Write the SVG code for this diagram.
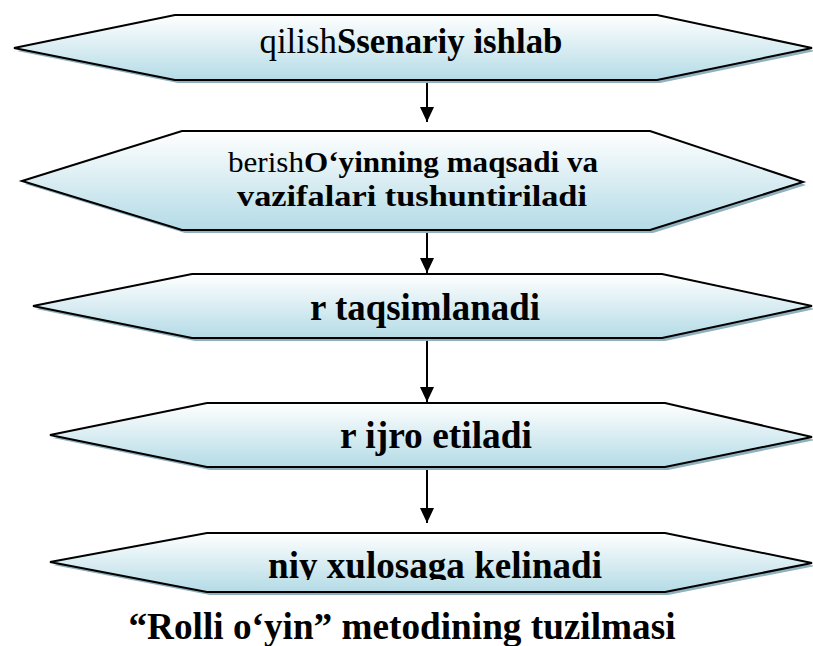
<svg xmlns="http://www.w3.org/2000/svg" width="813" height="646" viewBox="0 0 813 646">
<style>
.shape{fill:url(#g);stroke:#000;stroke-width:2;stroke-linejoin:miter}
.shadow{fill:#8fb0bd;stroke:none}
.t{font-family:"Liberation Serif","Times New Roman",serif;font-weight:bold;fill:#000;text-anchor:middle}
.r{font-weight:normal}
.conn{stroke:#000;stroke-width:2;fill:none}
</style>
<defs>
<linearGradient id="g" x1="0" y1="0" x2="0" y2="1">
<stop offset="0" stop-color="#ffffff"/>
<stop offset="1" stop-color="#b4dbe6"/>
</linearGradient>
<marker id="ah" markerUnits="userSpaceOnUse" markerWidth="16" markerHeight="16" viewBox="0 0 16 16" refX="15" refY="8" orient="auto">
<path d="M0,1 L15,8 L0,15 Z" fill="#000"/>
</marker>
<clipPath id="c5"><rect x="0" y="533" width="813" height="47"/></clipPath>
</defs>
<g id="connectors">
<line class="conn" x1="427" y1="80" x2="427" y2="122" marker-end="url(#ah)"/>
<line class="conn" x1="427" y1="230" x2="427" y2="273" marker-end="url(#ah)"/>
<line class="conn" x1="427" y1="338" x2="427" y2="402" marker-end="url(#ah)"/>
<line class="conn" x1="427" y1="467" x2="427" y2="523" marker-end="url(#ah)"/>
</g>
<g id="n1">
<polygon class="shadow" points="17,51 178,18 660,18 815,51 660,83 178,83"/>
<polygon class="shape" points="14,48 175,15 657,15 812,48 657,80 175,80"/>
<text class="t" x="411" y="53" font-size="35" textLength="303" lengthAdjust="spacingAndGlyphs"><tspan class="r">qilish</tspan>Ssenariy ishlab</text>
</g>
<g id="n2">
<polygon class="shadow" points="25,184 185,134 653,134 806,185 653,233 185,233"/>
<polygon class="shape" points="22,181 182,131 650,131 803,182 650,230 182,230"/>
<text class="t" x="413" y="172" font-size="30" textLength="370" lengthAdjust="spacingAndGlyphs"><tspan class="r">berish</tspan>O‘yinning maqsadi va</text>
<text class="t" x="412" y="206" font-size="30" textLength="350" lengthAdjust="spacingAndGlyphs">vazifalari tushuntiriladi</text>
</g>
<g id="n3">
<polygon class="shadow" points="36,309 195,277 665,277 815,309 665,341 195,341"/>
<polygon class="shape" points="33,306 192,274 662,274 812,306 662,338 192,338"/>
<text class="t" x="425" y="320" font-size="37" textLength="230" lengthAdjust="spacingAndGlyphs">r taqsimlanadi</text>
</g>
<g id="n4">
<polygon class="shadow" points="53,438 210,406 668,406 815,440 668,470 210,470"/>
<polygon class="shape" points="50,435 207,403 665,403 812,437 665,467 207,467"/>
<text class="t" x="436" y="448" font-size="37" textLength="192" lengthAdjust="spacingAndGlyphs">r ijro etiladi</text>
</g>
<g id="n5">
<polygon class="shadow" points="53,565 210,536 668,536 815,566 668,595 210,595"/>
<polygon class="shape" points="50,562 207,533 665,533 812,563 665,592 207,592"/>
<text class="t" x="435" y="578" font-size="37" textLength="334" lengthAdjust="spacingAndGlyphs" clip-path="url(#c5)">niy xulosaga kelinadi</text>
</g>
<g id="caption">
<text class="t" x="402" y="639" font-size="37" textLength="547" lengthAdjust="spacingAndGlyphs">“Rolli o‘yin” metodining tuzilmasi</text>
</g>
</svg>
